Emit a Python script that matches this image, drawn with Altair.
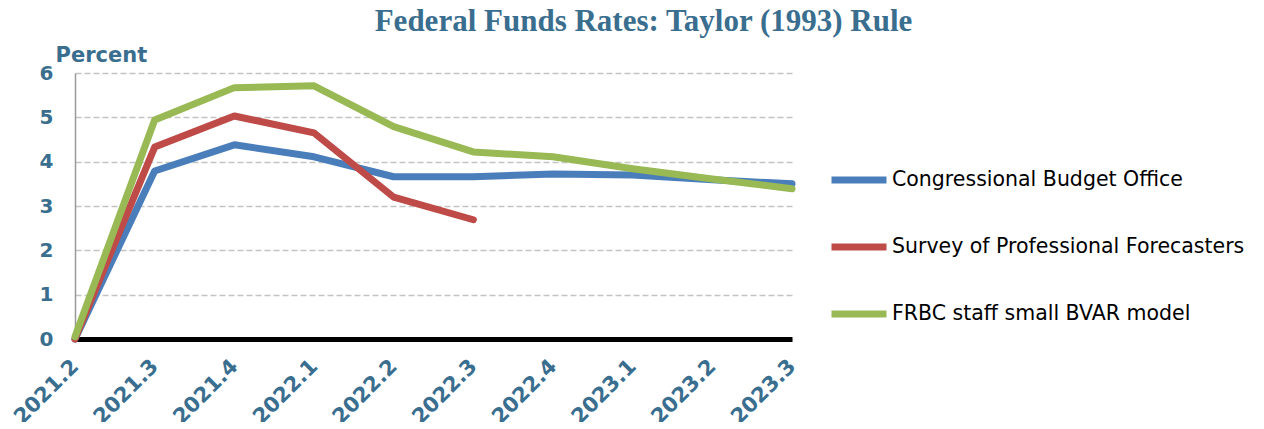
import altair as alt
import pandas as pd

quarters = ["2021.2", "2021.3", "2021.4", "2022.1", "2022.2", "2022.3",
            "2022.4", "2023.1", "2023.2", "2023.3"]
cbo = [0.0, 3.79, 4.38, 4.11, 3.66, 3.66, 3.72, 3.70, 3.59, 3.50]
spf = [0.0, 4.33, 5.03, 4.65, 3.20, 2.69, None, None, None, None]
bvar = [0.05, 4.94, 5.67, 5.71, 4.79, 4.22, 4.11, 3.84, 3.61, 3.39]
series = ["Congressional Budget Office", "Survey of Professional Forecasters",
          "FRBC staff small BVAR model"]
colors = ["#4A7EBB", "#BE4B48", "#98B954"]

rows = []
for name, vals in zip(series, [cbo, spf, bvar]):
    for q, v in zip(quarters, vals):
        if v is not None:
            rows.append({"quarter": q, "value": v, "series": name})
df = pd.DataFrame(rows)

blue_text = "#3A6E8F"

chart = alt.Chart(df).mark_line(strokeWidth=7, strokeCap="round", strokeJoin="round").encode(
    x=alt.X("quarter:O", sort=quarters, title=None,
            scale=alt.Scale(type="point", padding=0),
            axis=alt.Axis(labelAngle=-45, labelAlign="right", labelBaseline="middle",
                          labelFont="DejaVu Sans", labelFontWeight="bold", labelFontSize=21,
                          labelColor=blue_text, labelPadding=24,
                          ticks=False, tickSize=0, grid=False,
                          domainColor="black", domainWidth=5)),
    y=alt.Y("value:Q", scale=alt.Scale(domain=[0, 6], nice=False),
            axis=alt.Axis(values=[0, 1, 2, 3, 4, 5, 6], format="d",
                          title="Percent", titleAngle=0, titleX=-20, titleY=-12,
                          titleAlign="left", titleBaseline="alphabetic",
                          titleFont="DejaVu Sans", titleFontWeight="bold",
                          titleFontSize=21, titleColor=blue_text,
                          labelFont="DejaVu Sans", labelFontWeight="bold", labelFontSize=20,
                          labelColor=blue_text, labelPadding=22,
                          ticks=False, tickSize=0,
                          domainColor="#999999", domainWidth=1.5,
                          grid=True, gridColor="#C4C4C4", gridDash=[6, 3], gridWidth=1.5)),
    color=alt.Color("series:N", sort=series,
                    scale=alt.Scale(domain=series, range=colors),
                    legend=alt.Legend(title=None, orient="none", legendX=753, legendY=76,
                                      symbolType="stroke", symbolSize=3025,
                                      symbolStrokeWidth=7, labelFont="DejaVu Sans",
                                      labelFontSize=20.5, labelColor="black",
                                      labelLimit=600, labelOffset=2, rowPadding=22,
                                      padding=0)),
).properties(
    width=717, height=266,
    padding={"left": 67, "top": 65, "right": 464, "bottom": 83},
    autosize=alt.AutoSizeParams(type="none"),
    title=alt.TitleParams("Federal Funds Rates: Taylor (1993) Rule", font="Liberation Serif",
                          fontWeight="bold", fontSize=31, color=blue_text,
                          anchor="middle", dx=210, dy=58, offset=40, baseline="alphabetic"),
).configure_view(stroke=None)

chart.save("out.html", embed_options={"renderer": "svg", "actions": False})
